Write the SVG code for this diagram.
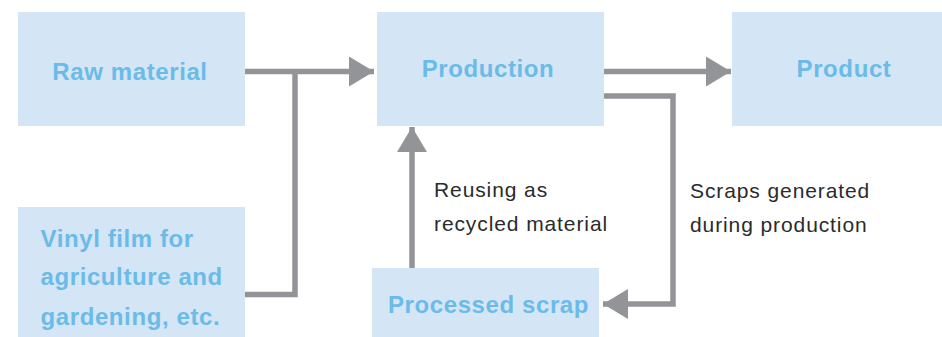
<svg xmlns="http://www.w3.org/2000/svg" width="942" height="337" viewBox="0 0 942 337">
<style>
.box{fill:#d4e5f5}
.lbl{font-family:"Liberation Sans",Arial,sans-serif;font-weight:bold;font-size:24px;fill:#6bbbe8;letter-spacing:0.6px}
.note{font-family:"Liberation Sans",Arial,sans-serif;font-size:21px;fill:#2b2b2b;letter-spacing:0.9px}
.con{fill:none;stroke:#939498;stroke-width:5.5;stroke-linejoin:miter}
</style>
<defs>
<marker id="ah" markerUnits="userSpaceOnUse" markerWidth="26" markerHeight="30" refX="25" refY="15" orient="auto" viewBox="0 0 26 30">
<path d="M0,0 L25,15 L0,30 Z" fill="#939498"/>
</marker>
</defs>
<rect width="942" height="337" fill="#ffffff"/>
<g id="connectors">
<path class="con" d="M245,71.5 H374" marker-end="url(#ah)"/>
<path class="con" d="M245,294.5 H295 V71.5"/>
<path class="con" d="M604,71.5 H731" marker-end="url(#ah)"/>
<path class="con" d="M604,96 H673 V304 H603" marker-end="url(#ah)"/>
<path class="con" d="M412,268 V127" marker-end="url(#ah)"/>
</g>
<g id="raw-material">
<rect class="box" x="18" y="12" width="227" height="114"/>
<text class="lbl" x="130" y="80" text-anchor="middle">Raw material</text>
</g>
<g id="production">
<rect class="box" x="377" y="12" width="227" height="114"/>
<text class="lbl" x="488" y="77" text-anchor="middle">Production</text>
</g>
<g id="product">
<rect class="box" x="732" y="12" width="215" height="114"/>
<text class="lbl" x="844" y="77" text-anchor="middle">Product</text>
</g>
<g id="vinyl-film">
<rect class="box" x="18" y="207" width="227" height="135"/>
<text class="lbl" x="40.5" y="247">Vinyl film for</text>
<text class="lbl" x="40.5" y="285">agriculture and</text>
<text class="lbl" x="40.5" y="325">gardening, etc.</text>
</g>
<g id="processed-scrap">
<rect class="box" x="372" y="268" width="227" height="74"/>
<text class="lbl" x="488.5" y="313" text-anchor="middle">Processed scrap</text>
</g>
<g id="labels">
<text class="note" x="434" y="197">Reusing as</text>
<text class="note" x="434" y="231">recycled material</text>
<text class="note" x="690" y="198">Scraps generated</text>
<text class="note" x="690" y="231.5">during production</text>
</g>
</svg>
